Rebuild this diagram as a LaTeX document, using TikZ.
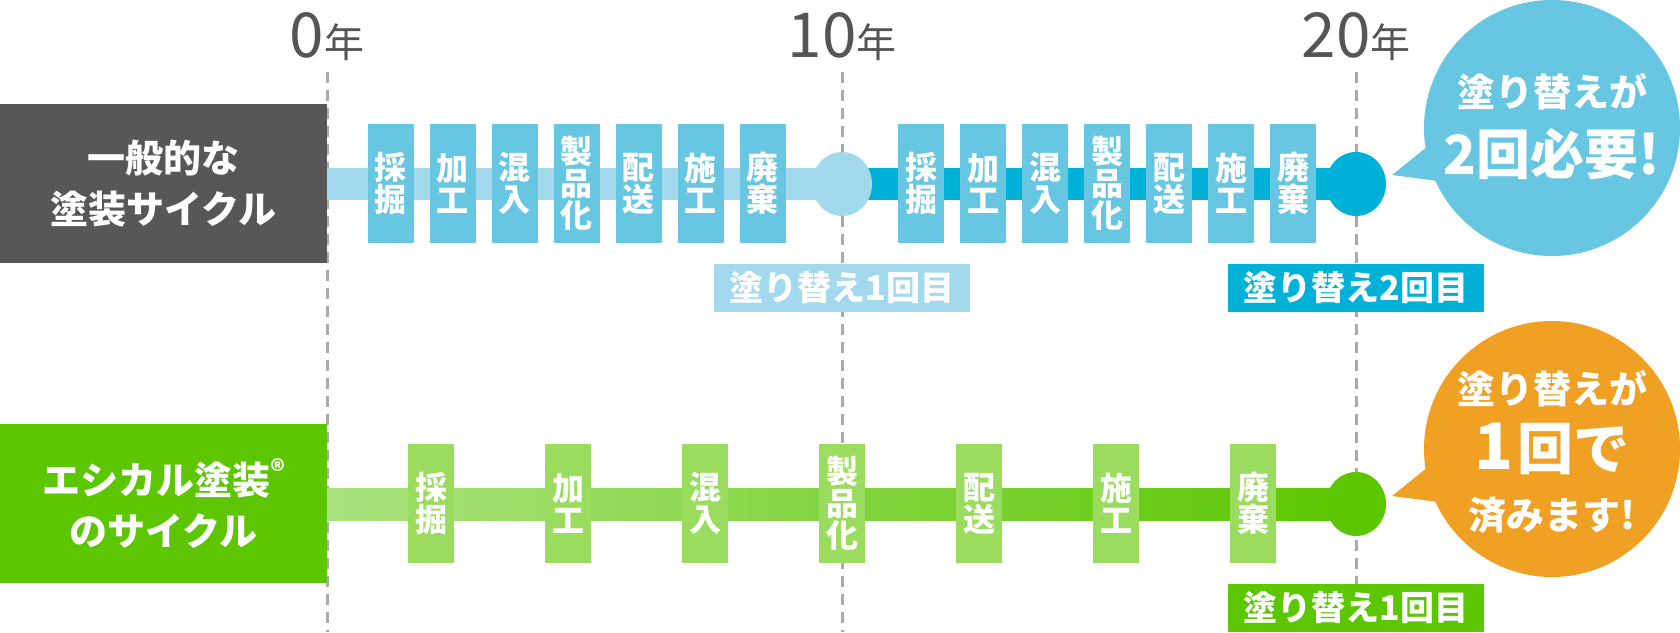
\documentclass[tikz,border=0pt]{standalone}
\usepackage{fontspec}
\newfontfamily\jp{Noto Sans CJK JP}
\usetikzlibrary{calc,shapes.geometric}
\definecolor{boxgray}{HTML}{575757}
\definecolor{yeargray}{HTML}{555555}
\definecolor{dashgray}{HTML}{AAAAAA}
\definecolor{lightblue}{HTML}{A2D9EC}
\definecolor{stepblue}{HTML}{67C6E2}
\definecolor{darkblue}{HTML}{00B1D7}
\definecolor{maingreen}{HTML}{5CC600}
\definecolor{stepgreen}{HTML}{9ADC5D}
\definecolor{palegreen}{HTML}{A9E27F}
\definecolor{bubbleorange}{HTML}{F0A023}
\begin{document}
\begin{tikzpicture}[x=1pt,y=-1pt,
  yearline/.style={dashgray, line width=3pt, dash pattern=on 11pt off 7pt},
  stepbox/.style={rectangle, minimum width=46pt, minimum height=119pt, inner sep=0pt,
    text=white, font=\jp\bfseries\fontsize{32}{32}\selectfont, align=center},
  tagbox/.style={rectangle, minimum width=256pt, minimum height=48pt, inner sep=0pt,
    text=white, font=\jp\bfseries\fontsize{34}{34}\selectfont},
  dotnode/.style={ellipse, minimum width=60pt, minimum height=64pt, inner sep=0pt},
  rowbox/.style={rectangle, minimum width=327pt, minimum height=159pt, inner sep=0pt,
    text=white, align=center, font=\jp\bfseries\fontsize{38}{51}\selectfont},
  bubble/.style={circle, minimum size=256pt, inner sep=0pt},
  bubtext/.style={text=white, inner sep=0pt, font=\jp\bfseries\fontsize{38}{38}\selectfont},
  bigtext/.style={text=white, inner sep=0pt, font=\jp\bfseries\fontsize{54}{54}\selectfont},
  yearlabel/.style={text=yeargray, anchor=base, inner sep=0pt, font=\jp}
]
\useasboundingbox (0,0) rectangle (1680,632);

% year lines
\coordinate (t0) at (327,72);  \coordinate (b0) at (327,632);
\coordinate (t10) at (842,72); \coordinate (b10) at (842,632);
\coordinate (t20) at (1356,72); \coordinate (b20) at (1356,632);
\draw[yearline] (t0) -- (b0);
\draw[yearline] (t10) -- (b10);
\draw[yearline] (t20) -- (b20);

% year labels
\node[yearlabel] (y0) at (327,57) {{\fontsize{62}{62}\selectfont 0}{\fontsize{40}{40}\selectfont 年}};
\node[yearlabel] (y10) at (842,57) {{\fontsize{62}{62}\selectfont 10}{\fontsize{40}{40}\selectfont 年}};
\node[yearlabel] (y20) at (1356,57) {{\fontsize{62}{62}\selectfont 20}{\fontsize{40}{40}\selectfont 年}};

% ---------- top row ----------
\coordinate (s1) at (327,184);
\node[dotnode] (c10) at (842,184) {};
\node[dotnode] (c20) at (1356,184) {};
\draw[lightblue, line width=32pt] (s1) -- (c10.center);
\draw[darkblue, line width=32pt] (c10.center) -- (c20.center);
\fill[lightblue] (c10.center) ellipse [x radius=30, y radius=32];
\fill[darkblue] (c20.center) ellipse [x radius=30, y radius=32];

\foreach \n/\x/\t in {a1/390.5/採\\掘, a2/452.5/加\\工, a3/514.5/混\\入, a4/576.5/製\\品\\化,
                      a5/638.5/配\\送, a6/700.5/施\\工, a7/762.5/廃\\棄,
                      b1/921/採\\掘, b2/983/加\\工, b3/1045/混\\入, b4/1107/製\\品\\化,
                      b5/1169/配\\送, b6/1231/施\\工, b7/1293/廃\\棄}
  \node[stepbox, fill=stepblue] (\n) at (\x,183.5) {\t};

\node[tagbox, fill=lightblue] (tag1) at (842,288) {塗り替え1回目};
\node[tagbox, fill=darkblue] (tag2) at (1356,288) {塗り替え2回目};

\node[rowbox, fill=boxgray] (row1) at (163.5,183.5) {一般的な\\塗装サイクル};

% blue bubble
\node[bubble, fill=stepblue] (bub1) at (1552,128) {};
\coordinate (tip1) at (1392,175);
\fill[stepblue] (tip1) -- (1428,146) -- (1438,181) -- cycle;
\node[bubtext] (bub1a) at (1552,92) {塗り替えが};
\node[bigtext] (bub1b) at (1552,154) {2回必要!};

% ---------- bottom row ----------
\coordinate (s2) at (327,504);
\node[dotnode] (g20) at (1356,504) {};
\shade[left color=palegreen, right color=maingreen] ($(s2)+(0,-16)$) rectangle ($(g20.center)+(0,16)$);
\fill[maingreen] (g20.center) ellipse [x radius=30, y radius=32];

\foreach \n/\x/\t in {e1/431/採\\掘, e2/568/加\\工, e3/705/混\\入, e4/842/製\\品\\化,
                      e5/979/配\\送, e6/1116/施\\工, e7/1253/廃\\棄}
  \node[stepbox, fill=stepgreen] (\n) at (\x,503.5) {\t};

\node[tagbox, fill=maingreen] (tag3) at (1356,608) {塗り替え1回目};

\node[rowbox, fill=maingreen] (row2) at (163.5,503.5) {エシカル塗装\raisebox{13pt}{\fontsize{28}{28}\selectfont ®}\\のサイクル};

% orange bubble
\node[bubble, fill=bubbleorange] (bub2) at (1552,449) {};
\coordinate (tip2) at (1392,496);
\fill[bubbleorange] (tip2) -- (1428,467) -- (1438,502) -- cycle;
\node[bubtext] (bub2a) at (1552,389) {塗り替えが};
\node[bigtext] (bub2b) at (1552,449) {{\fontsize{64}{64}\selectfont 1\hspace{4pt}}{\fontsize{56}{56}\selectfont 回で}};
\node[bubtext] (bub2c) at (1552,515) {済みます!};
\end{tikzpicture}
\end{document}
